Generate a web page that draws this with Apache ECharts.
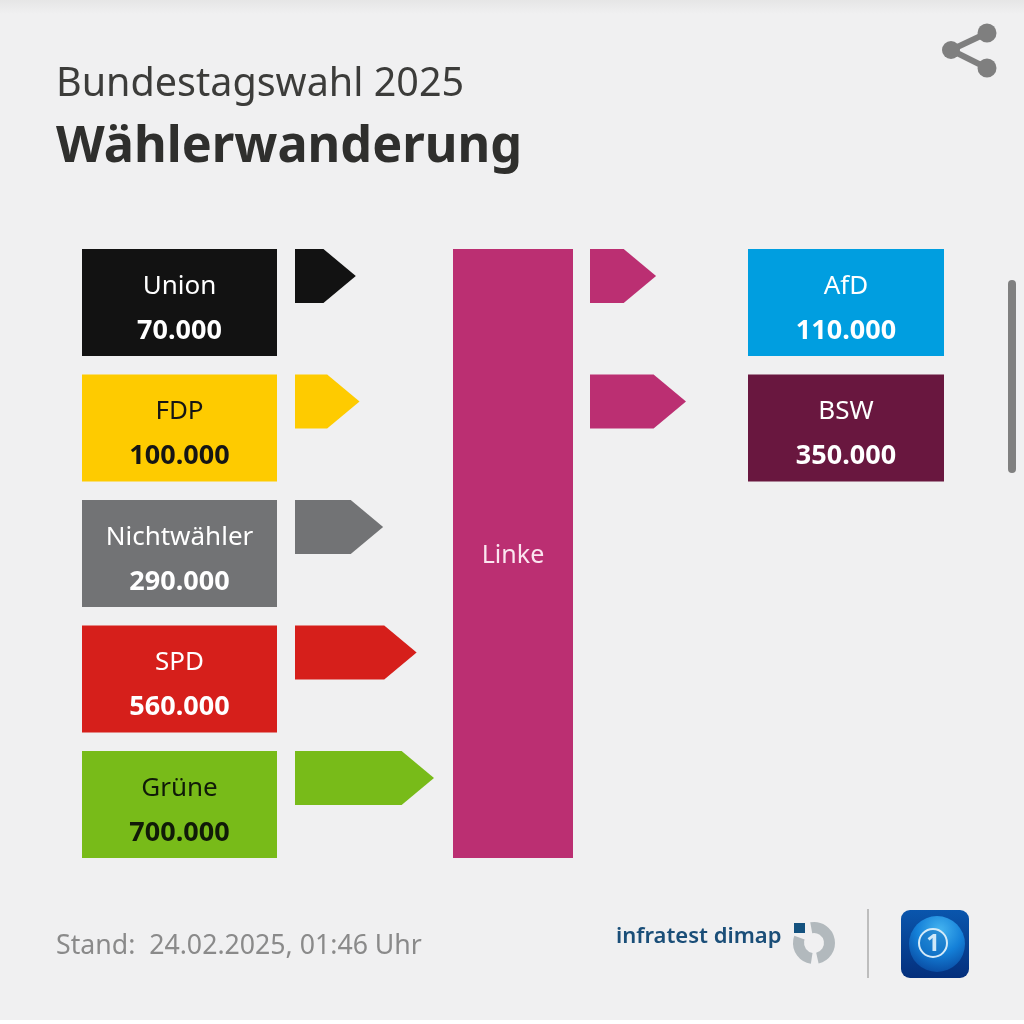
<!DOCTYPE html>
<html><head><meta charset="utf-8">
<style>html,body{margin:0;padding:0;background:#fff}#c{width:1024px;height:1024px}</style>
<script src="https://cdn.jsdelivr.net/npm/echarts@6/dist/echarts.min.js"></script></head>
<body><div id="c"></div>
<script>
const titleTop = 'Bundestagswahl 2025';
const titleMain = 'Wählerwanderung';
const footerText = 'Stand:  24.02.2025, 01:46 Uhr';
const instituteText = 'infratest dimap';
const centerName = 'Linke';
const centerColor = '#bb2f72';

const fromNames = ['Union', 'FDP', 'Nichtwähler', 'SPD', 'Grüne'];
const fromValues = [70000, 100000, 290000, 560000, 700000];
const fromColors = ['#121212', '#fecb00', '#727375', '#d61f1b', '#78bb19'];
const fromText = ['#ffffff', '#151515', '#ffffff', '#ffffff', '#101a08'];

const toNames = ['AfD', 'BSW'];
const toValues = [110000, 350000];
const toColors = ['#009ee0', '#69173f'];
const toText = ['#ffffff', '#ffffff'];

const FONT = '"Noto Sans", sans-serif';
const fmt = v => String(v).replace(/\B(?=(\d{3})+$)/g, '.');

function boxRender(colors, textColors, values) {
  return function (params, api) {
    const i = params.dataIndex;
    const cs = params.coordSys;
    const band = api.size([0, 1])[1];
    const cy = api.coord([0, i])[1];
    const h = band * 0.853;
    const top = cy - band / 2;
    return { type: 'group', children: [
      { type: 'rect', shape: { x: cs.x, y: top, width: cs.width, height: h }, style: { fill: colors[i] } },
      { type: 'text', style: { text: api.value(2), x: cs.x + cs.width / 2, y: top + 37.5, align: 'center', verticalAlign: 'middle',
          fill: textColors[i], font: '400 26px ' + FONT } },
      { type: 'text', style: { text: fmt(values[i]), x: cs.x + cs.width / 2, y: top + 82, align: 'center', verticalAlign: 'middle',
          fill: textColors[i], font: '700 27px ' + FONT } }
    ] };
  };
}
function arrowRender(color) {
  return function (params, api) {
    const i = params.dataIndex;
    const c = typeof color === 'function' ? color(i) : color;
    const band = api.size([0, 1])[1];
    const pt = api.coord([api.value(0), i]);
    const x0 = params.coordSys.x;
    const h = band * 0.43;
    const top = pt[1] - band / 2;
    const head = h * 0.6;
    return { type: 'polygon', shape: { points: [
      [x0, top], [pt[0] - head, top], [pt[0], top + h / 2], [pt[0] - head, top + h], [x0, top + h]
    ] }, style: { fill: c } };
  };
}
const hiddenX = (i, extra) => Object.assign({ type: 'value', gridIndex: i, show: false, min: 0, max: 1 }, extra || {});
const hiddenY = (i, data) => ({ type: 'category', gridIndex: i, show: false, inverse: true, data, boundaryGap: true });
const flowAxis = { min: -420000, max: 700000 };

const option = {
  animation: false,
  backgroundColor: '#f0f0f1',
  grid: [
    { left: 82, top: 249, width: 195, height: 627.5 },
    { left: 295, top: 249, width: 139, height: 627.5 },
    { left: 453, top: 249, width: 120, height: 609 },
    { left: 590, top: 249, width: 139.6, height: 251 },
    { left: 748, top: 249, width: 196, height: 251 }
  ],
  xAxis: [hiddenX(0), hiddenX(1, flowAxis), hiddenX(2), hiddenX(3, flowAxis), hiddenX(4)],
  yAxis: [hiddenY(0, fromNames), hiddenY(1, fromNames), hiddenY(2, [centerName]), hiddenY(3, toNames), hiddenY(4, toNames)],
  series: [
    { type: 'custom', xAxisIndex: 0, yAxisIndex: 0, renderItem: boxRender(fromColors, fromText, fromValues),
      encode: { x: 0, y: 1 }, data: fromNames.map((n, i) => [0, i, n]) },
    { type: 'custom', xAxisIndex: 1, yAxisIndex: 1, renderItem: arrowRender(i => fromColors[i]),
      encode: { x: 0, y: 1 }, data: fromValues.map((v, i) => [v, i]) },
    { type: 'custom', xAxisIndex: 2, yAxisIndex: 2, encode: { x: 0, y: 1 }, data: [[0, 0]],
      renderItem: (params) => {
        const cs = params.coordSys;
        return { type: 'group', children: [
          { type: 'rect', shape: { x: cs.x, y: cs.y, width: cs.width, height: cs.height }, style: { fill: centerColor } },
          { type: 'text', style: { text: centerName, x: cs.x + cs.width / 2, y: cs.y + 307, align: 'center', verticalAlign: 'middle',
              fill: '#fbe6f0', font: '400 25px ' + FONT } }
        ] };
      } },
    { type: 'custom', xAxisIndex: 3, yAxisIndex: 3, renderItem: arrowRender(centerColor),
      encode: { x: 0, y: 1 }, data: toValues.map((v, i) => [v, i]) },
    { type: 'custom', xAxisIndex: 4, yAxisIndex: 4, renderItem: boxRender(toColors, toText, toValues),
      encode: { x: 0, y: 1 }, data: toNames.map((n, i) => [0, i, n]) }
  ],
  graphic: { elements: [
    { type: 'rect', silent: true, z: -1, shape: { x: 0, y: 1020, width: 1024, height: 4 }, style: { fill: '#ffffff' } },
    { type: 'rect', silent: true, z: -1, shape: { x: 0, y: 0, width: 1024, height: 14 },
      style: { fill: { type: 'linear', x: 0, y: 0, x2: 0, y2: 1, colorStops: [
        { offset: 0, color: '#e6e6e6' }, { offset: 1, color: '#f0f0f1' } ] } } },
    { type: 'text', left: 56, top: 65, style: { text: titleTop, fill: '#3c3c3a', font: '400 39.5px ' + FONT } },
    { type: 'text', left: 56, top: 123, style: { text: titleMain, fill: '#2f2f2d', font: '700 50.4px ' + FONT } },
    { type: 'text', left: 56, top: 933, style: { text: footerText, fill: '#8a8a8a', font: '400 26.7px ' + FONT } },
    { type: 'text', left: 616, top: 926, style: { text: instituteText, fill: '#1a4e78', font: '600 22px ' + FONT } },
    // infratest dimap mark
    { type: 'rect', shape: { x: 794, y: 923, width: 11, height: 10 }, style: { fill: '#14527f' } },
    { type: 'arc', shape: { cx: 814, cy: 943, r: 15.5, startAngle: -1.75, endAngle: 1.35 }, style: { stroke: '#b2b9bd', lineWidth: 11, fill: null } },
    { type: 'arc', shape: { cx: 814, cy: 943, r: 15.5, startAngle: 1.72, endAngle: 3.5 }, style: { stroke: '#b2b9bd', lineWidth: 11, fill: null } },
    // divider
    { type: 'rect', shape: { x: 867, y: 909, width: 2, height: 69 }, style: { fill: '#bdbdbd' } },
    // tagesschau icon
    { type: 'rect', shape: { x: 901, y: 910, width: 68, height: 68, r: 9 },
      style: { fill: { type: 'linear', x: 0, y: 0, x2: 0, y2: 1, colorStops: [
        { offset: 0, color: '#0a56ad' }, { offset: 1, color: '#042f7c' } ] } } },
    { type: 'circle', shape: { cx: 937, cy: 944, r: 28 },
      style: { fill: { type: 'radial', x: 0.55, y: 0.25, r: 0.75, colorStops: [
        { offset: 0, color: '#45b4f0' }, { offset: 0.55, color: '#1480d8' }, { offset: 1, color: '#0a4fa6' } ] } } },
    { type: 'circle', shape: { cx: 933, cy: 943, r: 14 }, style: { fill: 'rgba(20,110,190,0.5)', stroke: '#d6ebf8', lineWidth: 2 } },
    { type: 'text', style: { text: '1', x: 933, y: 944, align: 'center', verticalAlign: 'middle', fill: '#cfe8f8', font: '700 24px ' + FONT } },
    // share icon
    { type: 'line', shape: { x1: 951, y1: 50, x2: 987, y2: 33 }, style: { stroke: '#7f7f7f', lineWidth: 6 } },
    { type: 'line', shape: { x1: 951, y1: 50, x2: 987, y2: 68 }, style: { stroke: '#7f7f7f', lineWidth: 6 } },
    { type: 'circle', shape: { cx: 951, cy: 50, r: 9 }, style: { fill: '#7f7f7f' } },
    { type: 'circle', shape: { cx: 987, cy: 33, r: 9.5 }, style: { fill: '#7f7f7f' } },
    { type: 'circle', shape: { cx: 987, cy: 68, r: 9.5 }, style: { fill: '#7f7f7f' } },
    // scrollbar
    { type: 'rect', shape: { x: 1008, y: 280, width: 8, height: 193, r: 4 }, style: { fill: '#808080' } }
  ] }
};
echarts.init(document.getElementById('c'), null, { renderer: 'canvas' }).setOption(option);
</script></body></html>
